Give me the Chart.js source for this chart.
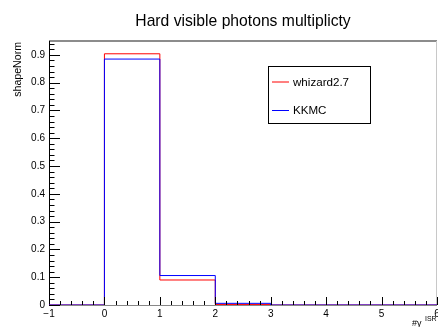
<!DOCTYPE html>
<html>
<head>
<meta charset="utf-8">
<script src="https://cdn.jsdelivr.net/npm/chart.js@4/dist/chart.umd.min.js"></script>
<style>
  html, body { margin: 0; padding: 0; background: #fff; }
  #wrap { width: 438px; height: 327px; position: relative; }
</style>
</head>
<body>
<div id="wrap"><canvas id="hist"></canvas></div>
<script>
// Histogram data (bin edges + bin contents per generator)
const binEdges = [-1, 0, 1, 2, 3, 4, 5, 6];
const whizard = [0, 0.904, 0.090, 0.002, 0, 0, 0];
const kkmc = [0, 0.885, 0.106, 0.006, 0, 0, 0];
const xTicks = [-1, 0, 1, 2, 3, 4, 5, 6];
const yTicks = [0, 0.1, 0.2, 0.3, 0.4, 0.5, 0.6, 0.7, 0.8, 0.9];

const FONT = '"Liberation Sans", Arial, Helvetica, sans-serif';

// turn bin contents into step points (last edge closes the last bin)
function toSteps(values) {
    const pts = values.map((v, i) => ({ x: binEdges[i], y: v }));
    pts.push({ x: binEdges[binEdges.length - 1], y: values[values.length - 1] });
    return pts;
}

// ROOT-like decorations: frame, inside ticks, titles, legend box
const rootStyle = {
    id: 'rootStyle',
    beforeDatasetsDraw(chart) {
        const { ctx, chartArea: a } = chart;
        ctx.save();
        // frame: top and right are soft grey, axes are black
        ctx.lineWidth = 2;
        ctx.strokeStyle = '#8c8c8c';
        ctx.beginPath();
        ctx.moveTo(a.left, a.top);
        ctx.lineTo(a.right, a.top);
        ctx.stroke();
        ctx.lineWidth = 1;
        ctx.strokeStyle = '#c8c8c8';
        ctx.beginPath();
        ctx.moveTo(a.right - 0.5, a.top);
        ctx.lineTo(a.right - 0.5, a.bottom);
        ctx.stroke();
        ctx.strokeStyle = '#000';
        ctx.beginPath();
        ctx.moveTo(a.left + 0.5, a.top);
        ctx.lineTo(a.left + 0.5, a.bottom);
        ctx.stroke();
        ctx.strokeStyle = '#888';
        ctx.beginPath();
        ctx.moveTo(a.left, a.bottom + 0.5);
        ctx.lineTo(a.right, a.bottom + 0.5);
        ctx.stroke();
        ctx.restore();
    },
    afterDatasetsDraw(chart) {
        const { ctx, chartArea: a, scales } = chart;
        const x = scales.x, y = scales.y;
        ctx.save();
        ctx.strokeStyle = '#000';
        ctx.lineWidth = 1;

        // y ticks (inside, major every 0.1, minor every 0.02)
        ctx.beginPath();
        for (let k = 0; k * 0.02 <= y.max + 1e-9; k++) {
            const py = Math.round(y.getPixelForValue(k * 0.02)) + 0.5;
            const len = k % 5 === 0 ? 11 : 5.5;
            ctx.moveTo(a.left, py);
            ctx.lineTo(a.left + len, py);
        }
        // x ticks (inside, major every 1, minor every 0.2)
        for (let k = 1; x.min + k * 0.2 <= x.max + 1e-9; k++) {
            const px = Math.round(x.getPixelForValue(x.min + k * 0.2)) + 0.5;
            const len = k % 5 === 0 ? 8 : 4;
            ctx.moveTo(px, a.bottom);
            ctx.lineTo(px, a.bottom - len);
        }
        ctx.stroke();

        // title
        ctx.fillStyle = '#000';
        ctx.font = '15.7px ' + FONT;
        ctx.textAlign = 'center';
        ctx.textBaseline = 'alphabetic';
        ctx.fillText('Hard visible photons multiplicty', (a.left + a.right) / 2, 26);

        // y axis title, right-aligned at top of axis
        ctx.save();
        ctx.translate(21, a.top + 1);
        ctx.rotate(-Math.PI / 2);
        ctx.font = '10.6px ' + FONT;
        ctx.textAlign = 'right';
        ctx.fillText('shapeNorm', 0, 0);
        ctx.restore();

        // x axis title #gamma^{ISR}
        ctx.textAlign = 'left';
        ctx.font = '9px ' + FONT;
        ctx.fillText('#\u03b3', 412, 326);
        ctx.font = '7px ' + FONT;
        ctx.fillText('ISR', 425, 321);

        // legend box
        const lx = 268.5, ly = 66.5, lw = 102, lh = 57;
        ctx.fillStyle = '#fff';
        ctx.fillRect(lx, ly, lw, lh);
        ctx.strokeStyle = '#000';
        ctx.strokeRect(lx, ly, lw, lh);
        const rows = [82, 110.5];
        chart.data.datasets.forEach((ds, i) => {
            ctx.strokeStyle = ds.borderColor;
            ctx.beginPath();
            ctx.moveTo(272, rows[i]);
            ctx.lineTo(289, rows[i]);
            ctx.stroke();
            ctx.fillStyle = '#000';
            ctx.font = '11.6px ' + FONT;
            ctx.textBaseline = 'middle';
            ctx.fillText(ds.label, 293, rows[i] + 0.5);
        });

        ctx.restore();
    }
};

new Chart(document.getElementById('hist'), {
    type: 'line',
    data: {
        datasets: [
            {
                label: 'whizard2.7',
                data: toSteps(whizard),
                borderColor: '#ff0000',
                borderWidth: 1,
                stepped: 'before',
                pointRadius: 0,
                fill: false,
                order: 2
            },
            {
                label: 'KKMC',
                data: toSteps(kkmc),
                borderColor: '#0000ff',
                borderWidth: 1,
                stepped: 'before',
                pointRadius: 0,
                fill: false,
                order: 1
            }
        ]
    },
    options: {
        responsive: true,
        maintainAspectRatio: false,
        animation: false,
        layout: { padding: { top: 41, right: 1, left: 0, bottom: 0 } },
        plugins: {
            legend: { display: false },
            title: { display: false },
            tooltip: { enabled: false }
        },
        scales: {
            x: {
                type: 'linear',
                min: -1,
                max: 6,
                border: { display: false },
                grid: { display: false, drawTicks: false },
                afterBuildTicks: (s) => { s.ticks = xTicks.map(v => ({ value: v })); },
                afterFit: (s) => { s.height = 22; s.paddingLeft = 0; s.paddingRight = 0; },
                ticks: {
                    padding: 3,
                    color: '#000',
                    font: { family: FONT, size: 10 },
                    maxRotation: 0,
                    autoSkip: false,
                    callback: (v) => v < 0 ? '\u2212' + Math.abs(v) : String(v)
                }
            },
            y: {
                type: 'linear',
                min: 0,
                max: 0.95,
                border: { display: false },
                grid: { display: false, drawTicks: false },
                afterBuildTicks: (s) => { s.ticks = yTicks.map(v => ({ value: v })); },
                afterFit: (s) => { s.width = 49; s.paddingTop = 0; s.paddingBottom = 0; },
                ticks: {
                    padding: 4,
                    color: '#000',
                    font: { family: FONT, size: 10 },
                    autoSkip: false,
                    callback: (v) => v === 0 ? '0' : v.toFixed(1)
                }
            }
        }
    },
    plugins: [rootStyle]
});
</script>
</body>
</html>
